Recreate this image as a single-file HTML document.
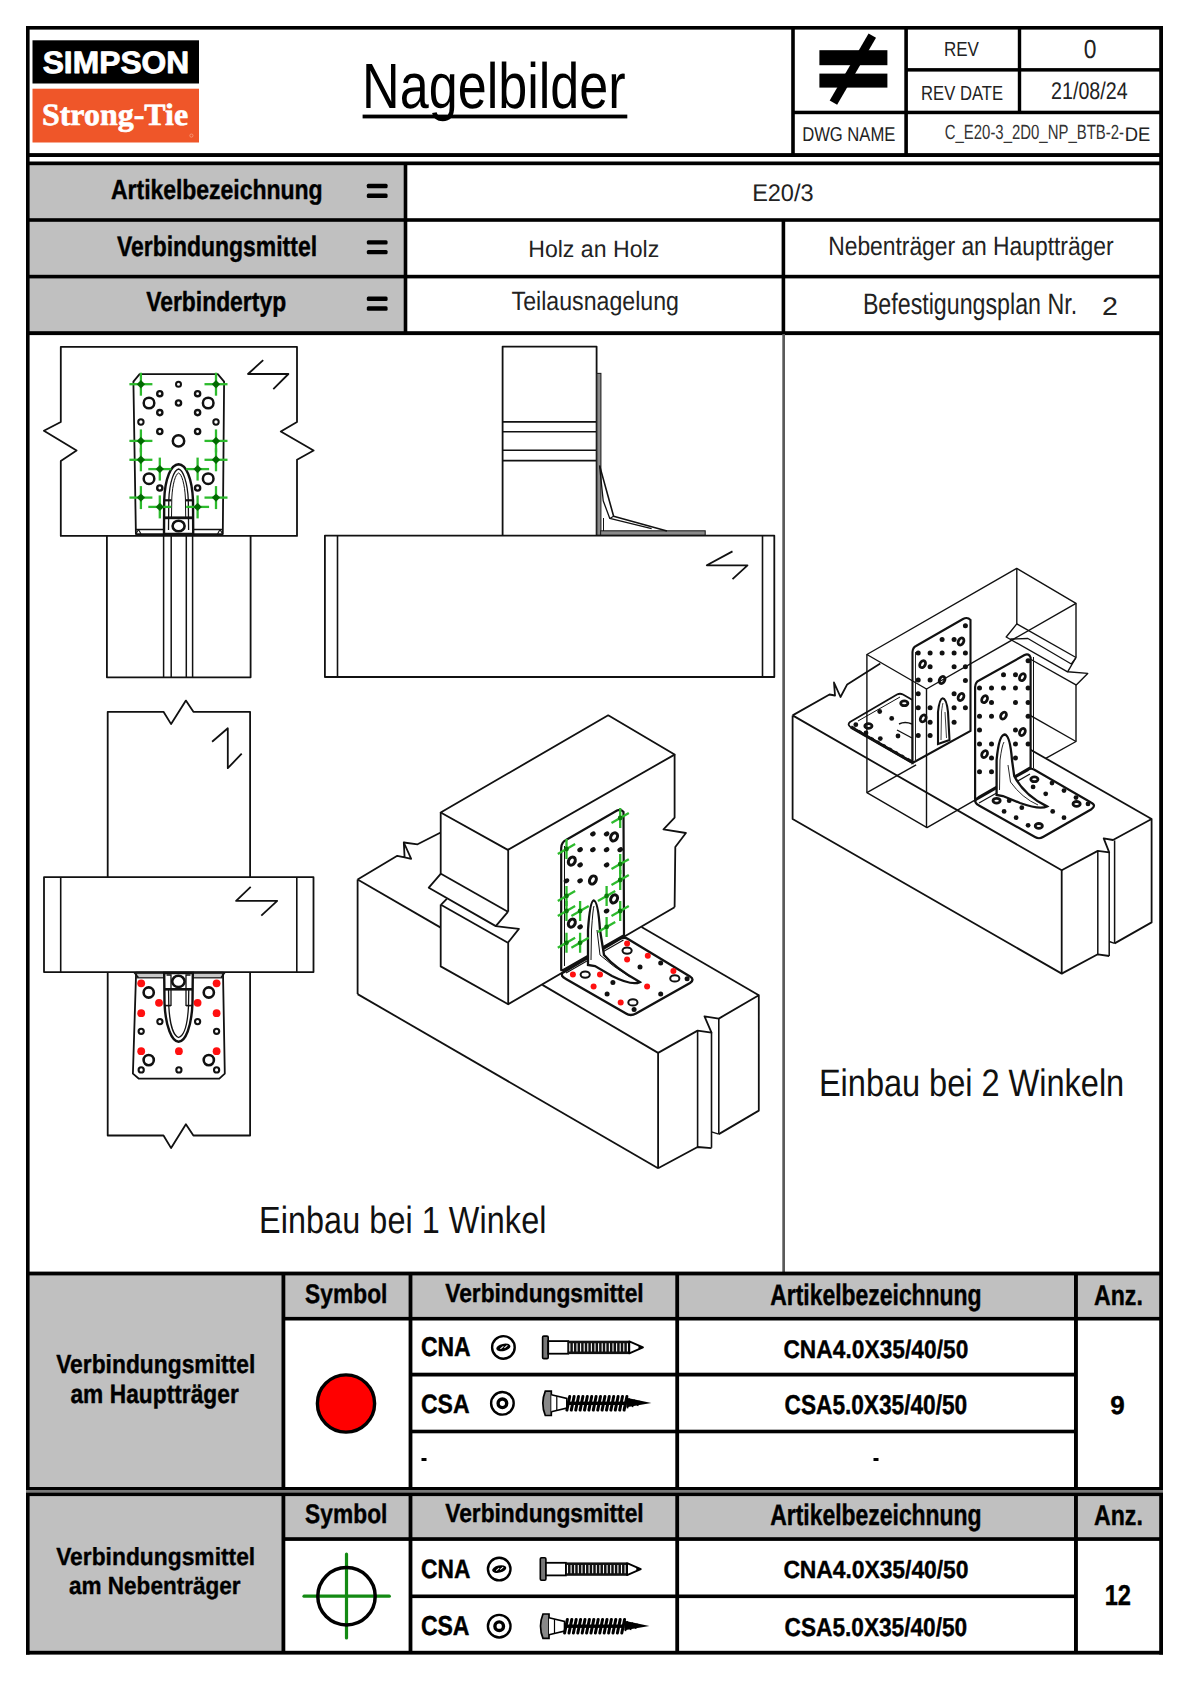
<!DOCTYPE html>
<html><head><meta charset="utf-8"><title>Nagelbilder</title>
<style>
html,body{margin:0;padding:0;background:#fff;}
body{width:1190px;height:1682px;overflow:hidden;font-family:"Liberation Sans",sans-serif;}
svg{display:block;}
</style></head><body>
<svg width="1190" height="1682" viewBox="0 0 1190 1682" text-rendering="geometricPrecision"><rect x="29" y="165" width="375" height="167" fill="#c0c0c0"/><rect x="29" y="1275" width="254" height="212" fill="#c0c0c0"/><rect x="283" y="1275" width="877" height="43" fill="#c0c0c0"/><rect x="29" y="1496" width="254" height="156" fill="#c0c0c0"/><rect x="283" y="1496" width="877" height="43" fill="#c0c0c0"/><rect x="32.5" y="40.3" width="166.5" height="43.2" fill="#000"/><rect x="32.5" y="88.7" width="166.5" height="53.8" fill="#ef5629"/><text transform="translate(42.65 73.40) scale(0.10270 0.10000)" font-size="309.68" font-weight="bold" font-family='"Liberation Sans", sans-serif' fill="#fff" stroke="#fff" stroke-width="8.76" stroke-linejoin="round">SIMPSON</text><text transform="translate(41.92 125.00) scale(0.10279 0.10000)" font-size="310.79" font-weight="bold" font-family='"Liberation Serif", serif' fill="#fff" stroke="#fff" stroke-width="6.81" stroke-linejoin="round">Strong-Tie</text><circle cx="191.4" cy="135.6" r="1.6" fill="none" stroke="#f7a88a" stroke-width="0.7"/><rect x="26.00" y="26.00" width="1137.00" height="3.60" fill="#000"/><rect x="26.00" y="1650.80" width="1137.00" height="3.80" fill="#000"/><rect x="26.00" y="26.00" width="3.60" height="1628.60" fill="#000"/><rect x="1159.20" y="26.00" width="3.80" height="1628.60" fill="#000"/><rect x="791.20" y="26.00" width="3.60" height="131.00" fill="#000"/><rect x="904.30" y="26.00" width="3.60" height="131.00" fill="#000"/><rect x="1017.80" y="26.00" width="3.40" height="88.00" fill="#000"/><rect x="906.00" y="68.10" width="255.00" height="3.50" fill="#000"/><rect x="793.00" y="110.70" width="368.00" height="3.50" fill="#000"/><rect x="26.00" y="153.10" width="1137.00" height="3.90" fill="#000"/><rect x="26.00" y="161.50" width="1137.00" height="3.70" fill="#000"/><rect x="26.00" y="218.20" width="1137.00" height="3.60" fill="#000"/><rect x="26.00" y="274.80" width="1137.00" height="3.60" fill="#000"/><rect x="26.00" y="331.20" width="1137.00" height="3.90" fill="#000"/><rect x="403.70" y="163.00" width="3.60" height="172.00" fill="#000"/><rect x="781.60" y="220.00" width="3.60" height="115.00" fill="#000"/><rect x="782.30" y="334.00" width="2.70" height="939.00" fill="#5a5a5a"/><rect x="26.00" y="1271.60" width="1137.00" height="3.80" fill="#000"/><rect x="281.50" y="1272.00" width="3.80" height="382.00" fill="#000"/><rect x="408.60" y="1272.00" width="3.80" height="382.00" fill="#000"/><rect x="675.30" y="1272.00" width="3.80" height="382.00" fill="#000"/><rect x="1074.00" y="1272.00" width="3.90" height="382.00" fill="#000"/><rect x="283.00" y="1316.90" width="878.00" height="3.60" fill="#000"/><rect x="411.00" y="1372.70" width="665.00" height="3.80" fill="#000"/><rect x="411.00" y="1429.70" width="665.00" height="3.60" fill="#000"/><rect x="26.00" y="1487.00" width="1137.00" height="9.10" fill="#000"/><rect x="26.00" y="1490.00" width="1137.00" height="2.70" fill="#7a7a7a"/><rect x="283.00" y="1537.20" width="878.00" height="3.70" fill="#000"/><rect x="411.00" y="1594.50" width="665.00" height="3.60" fill="#000"/><text transform="translate(362.10 107.60) scale(0.08101 0.10000)" font-size="643.06" font-weight="normal" font-family='"Liberation Sans", sans-serif' fill="#000">Nagelbilder</text><rect x="362.60" y="114.60" width="264.70" height="3.80" fill="#000"/><text transform="translate(943.90 55.60) scale(0.08291 0.10000)" font-size="205.09" font-weight="normal" font-family='"Liberation Sans", sans-serif' fill="#222">REV</text><text transform="translate(921.03 99.70) scale(0.08122 0.10000)" font-size="205.09" font-weight="normal" font-family='"Liberation Sans", sans-serif' fill="#222">REV DATE</text><text transform="translate(802.13 141.00) scale(0.08280 0.10000)" font-size="200.72" font-weight="normal" font-family='"Liberation Sans", sans-serif' fill="#222">DWG NAME</text><text transform="translate(1083.69 57.90) scale(0.08701 0.10000)" font-size="262.37" font-weight="normal" font-family='"Liberation Sans", sans-serif' fill="#222">0</text><text transform="translate(1051.01 99.30) scale(0.08120 0.10000)" font-size="242.76" font-weight="normal" font-family='"Liberation Sans", sans-serif' fill="#222">21/08/24</text><text transform="translate(944.75 139.00) scale(0.07231 0.10000)" font-size="206.45" font-weight="normal" font-family='"Liberation Sans", sans-serif' fill="#333">C_E20-3_2D0_NP_BTB-2-</text><text transform="translate(1124.69 141.00) scale(0.09340 0.10000)" font-size="196.36" font-weight="normal" font-family='"Liberation Sans", sans-serif' fill="#222">DE</text><rect x="819.4" y="50.2" width="68" height="15" fill="#000"/><rect x="819.4" y="73.6" width="68" height="14" fill="#000"/><line x1="872.3" y1="35.6" x2="833.4" y2="102.6" stroke="#000" stroke-width="8.6"/><text transform="translate(111.03 199.20) scale(0.08255 0.10000)" font-size="277.62" font-weight="bold" font-family='"Liberation Sans", sans-serif' fill="#000" stroke="#000" stroke-width="4.24" stroke-linejoin="round">Artikelbezeichnung</text><text transform="translate(116.93 255.50) scale(0.08097 0.10000)" font-size="283.29" font-weight="bold" font-family='"Liberation Sans", sans-serif' fill="#000" stroke="#000" stroke-width="4.32" stroke-linejoin="round">Verbindungsmittel</text><text transform="translate(146.13 311.20) scale(0.08207 0.10000)" font-size="279.04" font-weight="bold" font-family='"Liberation Sans", sans-serif' fill="#000" stroke="#000" stroke-width="4.26" stroke-linejoin="round">Verbindertyp</text><rect x="366.8" y="183.8" width="20.8" height="4.4" rx="1.5" fill="#000"/><rect x="366.8" y="193.5" width="20.8" height="4.4" rx="1.5" fill="#000"/><rect x="366.8" y="240.2" width="20.8" height="4.4" rx="1.5" fill="#000"/><rect x="366.8" y="249.9" width="20.8" height="4.4" rx="1.5" fill="#000"/><rect x="366.8" y="296.6" width="20.8" height="4.4" rx="1.5" fill="#000"/><rect x="366.8" y="306.3" width="20.8" height="4.4" rx="1.5" fill="#000"/><text transform="translate(752.16 201.30) scale(0.09726 0.10000)" font-size="241.38" font-weight="normal" font-family='"Liberation Sans", sans-serif' fill="#222">E20/3</text><text transform="translate(528.19 257.00) scale(0.09772 0.10000)" font-size="236.54" font-weight="normal" font-family='"Liberation Sans", sans-serif' fill="#222">Holz an Holz</text><text transform="translate(511.58 310.20) scale(0.08696 0.10000)" font-size="266.29" font-weight="normal" font-family='"Liberation Sans", sans-serif' fill="#222">Teilausnagelung</text><text transform="translate(828.22 255.00) scale(0.08567 0.10000)" font-size="266.29" font-weight="normal" font-family='"Liberation Sans", sans-serif' fill="#222">Nebenträger an Hauptträger</text><text transform="translate(862.88 313.80) scale(0.07804 0.10000)" font-size="297.45" font-weight="normal" font-family='"Liberation Sans", sans-serif' fill="#222">Befestigungsplan Nr.</text><text transform="translate(1102.07 315.40) scale(0.11196 0.10000)" font-size="255.20" font-weight="normal" font-family='"Liberation Sans", sans-serif' fill="#222">2</text><text transform="translate(259.02 1233.00) scale(0.08535 0.10000)" font-size="381.02" font-weight="normal" font-family='"Liberation Sans", sans-serif' fill="#111">Einbau bei 1 Winkel</text><text transform="translate(818.92 1096.00) scale(0.08465 0.10000)" font-size="383.85" font-weight="normal" font-family='"Liberation Sans", sans-serif' fill="#111">Einbau bei 2 Winkeln</text><text transform="translate(305.12 1302.80) scale(0.08419 0.10000)" font-size="270.54" font-weight="bold" font-family='"Liberation Sans", sans-serif' fill="#000" stroke="#000" stroke-width="4.16" stroke-linejoin="round">Symbol</text><text transform="translate(445.23 1302.00) scale(0.08679 0.10000)" font-size="262.04" font-weight="bold" font-family='"Liberation Sans", sans-serif' fill="#000" stroke="#000" stroke-width="4.03" stroke-linejoin="round">Verbindungsmittel</text><text transform="translate(770.23 1304.90) scale(0.07705 0.10000)" font-size="297.45" font-weight="bold" font-family='"Liberation Sans", sans-serif' fill="#000" stroke="#000" stroke-width="4.54" stroke-linejoin="round">Artikelbezeichnung</text><text transform="translate(1093.92 1305.20) scale(0.08137 0.10000)" font-size="285.09" font-weight="bold" font-family='"Liberation Sans", sans-serif' fill="#000" stroke="#000" stroke-width="4.30" stroke-linejoin="round">Anz.</text><text transform="translate(305.12 1522.80) scale(0.08419 0.10000)" font-size="270.54" font-weight="bold" font-family='"Liberation Sans", sans-serif' fill="#000" stroke="#000" stroke-width="4.16" stroke-linejoin="round">Symbol</text><text transform="translate(445.23 1522.00) scale(0.08679 0.10000)" font-size="262.04" font-weight="bold" font-family='"Liberation Sans", sans-serif' fill="#000" stroke="#000" stroke-width="4.03" stroke-linejoin="round">Verbindungsmittel</text><text transform="translate(770.23 1524.90) scale(0.07705 0.10000)" font-size="297.45" font-weight="bold" font-family='"Liberation Sans", sans-serif' fill="#000" stroke="#000" stroke-width="4.54" stroke-linejoin="round">Artikelbezeichnung</text><text transform="translate(1093.92 1525.20) scale(0.08137 0.10000)" font-size="285.09" font-weight="bold" font-family='"Liberation Sans", sans-serif' fill="#000" stroke="#000" stroke-width="4.30" stroke-linejoin="round">Anz.</text><text transform="translate(56.13 1372.60) scale(0.08710 0.10000)" font-size="262.04" font-weight="bold" font-family='"Liberation Sans", sans-serif' fill="#000" stroke="#000" stroke-width="4.02" stroke-linejoin="round">Verbindungsmittel</text><text transform="translate(70.42 1402.90) scale(0.08528 0.10000)" font-size="267.15" font-weight="bold" font-family='"Liberation Sans", sans-serif' fill="#000" stroke="#000" stroke-width="4.10" stroke-linejoin="round">am Hauptträger</text><text transform="translate(420.88 1356.40) scale(0.08364 0.10000)" font-size="273.84" font-weight="bold" font-family='"Liberation Sans", sans-serif' fill="#000" stroke="#000" stroke-width="4.18" stroke-linejoin="round">CNA</text><text transform="translate(420.88 1412.90) scale(0.08684 0.10000)" font-size="265.23" font-weight="bold" font-family='"Liberation Sans", sans-serif' fill="#000" stroke="#000" stroke-width="4.03" stroke-linejoin="round">CSA</text><text transform="translate(783.39 1358.30) scale(0.08935 0.10000)" font-size="255.17" font-weight="bold" font-family='"Liberation Sans", sans-serif' fill="#000" stroke="#000" stroke-width="3.92" stroke-linejoin="round">CNA4.0X35/40/50</text><text transform="translate(784.59 1414.20) scale(0.08291 0.10000)" font-size="273.10" font-weight="bold" font-family='"Liberation Sans", sans-serif' fill="#000" stroke="#000" stroke-width="4.22" stroke-linejoin="round">CSA5.0X35/40/50</text><text transform="translate(1110.29 1414.20) scale(0.10011 0.10000)" font-size="259.50" font-weight="bold" font-family='"Liberation Sans", sans-serif' fill="#000" stroke="#000" stroke-width="3.50" stroke-linejoin="round">9</text><rect x="421.5" y="1458" width="5" height="3" fill="#000"/><rect x="873.5" y="1458" width="5" height="3" fill="#000"/><circle cx="346" cy="1403.5" r="28.6" fill="#ff0000" stroke="#000" stroke-width="3.4"/><text transform="translate(56.13 1564.70) scale(0.09207 0.10000)" font-size="247.88" font-weight="bold" font-family='"Liberation Sans", sans-serif' fill="#000" stroke="#000" stroke-width="3.80" stroke-linejoin="round">Verbindungsmittel</text><text transform="translate(69.02 1594.30) scale(0.09086 0.10000)" font-size="247.88" font-weight="bold" font-family='"Liberation Sans", sans-serif' fill="#000" stroke="#000" stroke-width="3.85" stroke-linejoin="round">am Nebenträger</text><text transform="translate(420.88 1577.50) scale(0.08636 0.10000)" font-size="265.23" font-weight="bold" font-family='"Liberation Sans", sans-serif' fill="#000" stroke="#000" stroke-width="4.05" stroke-linejoin="round">CNA</text><text transform="translate(420.88 1635.30) scale(0.08367 0.10000)" font-size="275.27" font-weight="bold" font-family='"Liberation Sans", sans-serif' fill="#000" stroke="#000" stroke-width="4.18" stroke-linejoin="round">CSA</text><text transform="translate(783.39 1577.90) scale(0.09133 0.10000)" font-size="249.66" font-weight="bold" font-family='"Liberation Sans", sans-serif' fill="#000" stroke="#000" stroke-width="3.83" stroke-linejoin="round">CNA4.0X35/40/50</text><text transform="translate(784.59 1635.50) scale(0.08686 0.10000)" font-size="260.69" font-weight="bold" font-family='"Liberation Sans", sans-serif' fill="#000" stroke="#000" stroke-width="4.03" stroke-linejoin="round">CSA5.0X35/40/50</text><text transform="translate(1104.72 1605.40) scale(0.08197 0.10000)" font-size="288.17" font-weight="bold" font-family='"Liberation Sans", sans-serif' fill="#000" stroke="#000" stroke-width="4.27" stroke-linejoin="round">12</text><line x1="304" y1="1596.2" x2="389.3" y2="1596.2" stroke="#138a13" stroke-width="3.2" stroke-linecap="round"/><line x1="346.5" y1="1554" x2="346.5" y2="1638" stroke="#138a13" stroke-width="3.2" stroke-linecap="round"/><circle cx="346.5" cy="1596.2" r="28.7" fill="none" stroke="#000" stroke-width="3.5"/><circle cx="503.4" cy="1347.4" r="11.3" fill="none" stroke="#000" stroke-width="2.4"/><ellipse cx="503.4" cy="1347.4" rx="7.2" ry="3.6" transform="rotate(-12 503.4 1347.4)" fill="#000"/><path d="M500.4 1348.9 l3 -2.5 M504.4 1347.9 l3 -2.5" stroke="#fff" stroke-width="1.1"/><rect x="542.6" y="1336.1" width="5.6" height="22.5" rx="1.2" fill="#777" stroke="#000" stroke-width="1.6"/><rect x="548.2" y="1341.1" width="20.0" height="12.6" fill="#fff" stroke="#000" stroke-width="1.8"/><rect x="568.1" y="1340.7" width="61.2" height="13.4" fill="#111"/><line x1="569.8" y1="1343.2" x2="569.8" y2="1351.6" stroke="#fff" stroke-width="1.1"/><line x1="573.4" y1="1343.2" x2="573.4" y2="1351.6" stroke="#fff" stroke-width="1.1"/><line x1="577.0" y1="1343.2" x2="577.0" y2="1351.6" stroke="#fff" stroke-width="1.1"/><line x1="580.6" y1="1343.2" x2="580.6" y2="1351.6" stroke="#fff" stroke-width="1.1"/><line x1="584.2" y1="1343.2" x2="584.2" y2="1351.6" stroke="#fff" stroke-width="1.1"/><line x1="587.8" y1="1343.2" x2="587.8" y2="1351.6" stroke="#fff" stroke-width="1.1"/><line x1="591.4" y1="1343.2" x2="591.4" y2="1351.6" stroke="#fff" stroke-width="1.1"/><line x1="595.0" y1="1343.2" x2="595.0" y2="1351.6" stroke="#fff" stroke-width="1.1"/><line x1="598.6" y1="1343.2" x2="598.6" y2="1351.6" stroke="#fff" stroke-width="1.1"/><line x1="602.2" y1="1343.2" x2="602.2" y2="1351.6" stroke="#fff" stroke-width="1.1"/><line x1="605.8" y1="1343.2" x2="605.8" y2="1351.6" stroke="#fff" stroke-width="1.1"/><line x1="609.4" y1="1343.2" x2="609.4" y2="1351.6" stroke="#fff" stroke-width="1.1"/><line x1="613.0" y1="1343.2" x2="613.0" y2="1351.6" stroke="#fff" stroke-width="1.1"/><line x1="616.6" y1="1343.2" x2="616.6" y2="1351.6" stroke="#fff" stroke-width="1.1"/><line x1="620.2" y1="1343.2" x2="620.2" y2="1351.6" stroke="#fff" stroke-width="1.1"/><line x1="623.8" y1="1343.2" x2="623.8" y2="1351.6" stroke="#fff" stroke-width="1.1"/><line x1="627.4" y1="1343.2" x2="627.4" y2="1351.6" stroke="#fff" stroke-width="1.1"/><path d="M629.3 1341.4 L643.0 1347.4 L629.3 1353.4 Z" fill="#fff" stroke="#000" stroke-width="1.8" stroke-linejoin="round"/><path d="M638.5 1345.2 L643.5 1347.4 L638.5 1349.6 Z" fill="#000"/><circle cx="502.4" cy="1403.3" r="11.3" fill="none" stroke="#000" stroke-width="2.4"/><circle cx="502.4" cy="1403.3" r="4.3" fill="none" stroke="#000" stroke-width="3.4"/><path d="M551.3 1391.1 L551.3 1415.5 L545.3 1415.5 Q540.3 1403.3 545.3 1391.1 Z" fill="#888" stroke="#000" stroke-width="1.7"/><path d="M551.3 1394.8 L566.8 1398.5 L566.8 1408.1 L551.3 1411.8" fill="#fff" stroke="#000" stroke-width="1.6"/><line x1="556.8" y1="1396.3" x2="556.8" y2="1410.3" stroke="#000" stroke-width="1.2"/><rect x="566.8" y="1401.6" width="59.6" height="3.4" fill="#000"/><line x1="566.9" y1="1410.1" x2="569.7" y2="1396.5" stroke="#000" stroke-width="3.0" stroke-linecap="round"/><line x1="571.3" y1="1410.1" x2="574.1" y2="1396.5" stroke="#000" stroke-width="3.0" stroke-linecap="round"/><line x1="575.7" y1="1410.1" x2="578.5" y2="1396.5" stroke="#000" stroke-width="3.0" stroke-linecap="round"/><line x1="580.1" y1="1410.1" x2="582.9" y2="1396.5" stroke="#000" stroke-width="3.0" stroke-linecap="round"/><line x1="584.5" y1="1410.1" x2="587.3" y2="1396.5" stroke="#000" stroke-width="3.0" stroke-linecap="round"/><line x1="588.9" y1="1410.1" x2="591.7" y2="1396.5" stroke="#000" stroke-width="3.0" stroke-linecap="round"/><line x1="593.3" y1="1410.1" x2="596.1" y2="1396.5" stroke="#000" stroke-width="3.0" stroke-linecap="round"/><line x1="597.7" y1="1410.1" x2="600.5" y2="1396.5" stroke="#000" stroke-width="3.0" stroke-linecap="round"/><line x1="602.1" y1="1410.1" x2="604.9" y2="1396.5" stroke="#000" stroke-width="3.0" stroke-linecap="round"/><line x1="606.5" y1="1410.1" x2="609.3" y2="1396.5" stroke="#000" stroke-width="3.0" stroke-linecap="round"/><line x1="610.9" y1="1410.1" x2="613.7" y2="1396.5" stroke="#000" stroke-width="3.0" stroke-linecap="round"/><line x1="615.3" y1="1410.1" x2="618.1" y2="1396.5" stroke="#000" stroke-width="3.0" stroke-linecap="round"/><line x1="619.7" y1="1410.1" x2="622.5" y2="1396.5" stroke="#000" stroke-width="3.0" stroke-linecap="round"/><line x1="624.1" y1="1410.1" x2="626.9" y2="1396.5" stroke="#000" stroke-width="3.0" stroke-linecap="round"/><path d="M626.4 1397.8 L651.4 1403.0 L626.4 1407.3 Z" fill="#000"/><line x1="627.4" y1="1408.3" x2="629.4" y2="1398.3" stroke="#000" stroke-width="1.6"/><line x1="632.4" y1="1407.1" x2="634.4" y2="1399.5" stroke="#000" stroke-width="1.6"/><line x1="637.4" y1="1405.9" x2="639.4" y2="1400.7" stroke="#000" stroke-width="1.6"/><circle cx="499.2" cy="1569.1" r="11.3" fill="none" stroke="#000" stroke-width="2.4"/><ellipse cx="499.2" cy="1569.1" rx="7.2" ry="3.6" transform="rotate(-12 499.2 1569.1)" fill="#000"/><path d="M496.2 1570.6 l3 -2.5 M500.2 1569.6 l3 -2.5" stroke="#fff" stroke-width="1.1"/><rect x="540.3" y="1557.8" width="5.6" height="22.5" rx="1.2" fill="#777" stroke="#000" stroke-width="1.6"/><rect x="545.9" y="1562.8" width="20.0" height="12.6" fill="#fff" stroke="#000" stroke-width="1.8"/><rect x="565.8" y="1562.4" width="61.3" height="13.4" fill="#111"/><line x1="567.5" y1="1564.9" x2="567.5" y2="1573.3" stroke="#fff" stroke-width="1.1"/><line x1="571.1" y1="1564.9" x2="571.1" y2="1573.3" stroke="#fff" stroke-width="1.1"/><line x1="574.7" y1="1564.9" x2="574.7" y2="1573.3" stroke="#fff" stroke-width="1.1"/><line x1="578.3" y1="1564.9" x2="578.3" y2="1573.3" stroke="#fff" stroke-width="1.1"/><line x1="581.9" y1="1564.9" x2="581.9" y2="1573.3" stroke="#fff" stroke-width="1.1"/><line x1="585.5" y1="1564.9" x2="585.5" y2="1573.3" stroke="#fff" stroke-width="1.1"/><line x1="589.1" y1="1564.9" x2="589.1" y2="1573.3" stroke="#fff" stroke-width="1.1"/><line x1="592.7" y1="1564.9" x2="592.7" y2="1573.3" stroke="#fff" stroke-width="1.1"/><line x1="596.3" y1="1564.9" x2="596.3" y2="1573.3" stroke="#fff" stroke-width="1.1"/><line x1="599.9" y1="1564.9" x2="599.9" y2="1573.3" stroke="#fff" stroke-width="1.1"/><line x1="603.5" y1="1564.9" x2="603.5" y2="1573.3" stroke="#fff" stroke-width="1.1"/><line x1="607.1" y1="1564.9" x2="607.1" y2="1573.3" stroke="#fff" stroke-width="1.1"/><line x1="610.7" y1="1564.9" x2="610.7" y2="1573.3" stroke="#fff" stroke-width="1.1"/><line x1="614.3" y1="1564.9" x2="614.3" y2="1573.3" stroke="#fff" stroke-width="1.1"/><line x1="617.9" y1="1564.9" x2="617.9" y2="1573.3" stroke="#fff" stroke-width="1.1"/><line x1="621.5" y1="1564.9" x2="621.5" y2="1573.3" stroke="#fff" stroke-width="1.1"/><line x1="625.1" y1="1564.9" x2="625.1" y2="1573.3" stroke="#fff" stroke-width="1.1"/><path d="M627.1 1563.1 L640.8 1569.1 L627.1 1575.1 Z" fill="#fff" stroke="#000" stroke-width="1.8" stroke-linejoin="round"/><path d="M636.3 1566.9 L641.3 1569.1 L636.3 1571.3 Z" fill="#000"/><circle cx="499.2" cy="1626.2" r="11.3" fill="none" stroke="#000" stroke-width="2.4"/><circle cx="499.2" cy="1626.2" r="4.3" fill="none" stroke="#000" stroke-width="3.4"/><path d="M549.0 1614.0 L549.0 1638.4 L543.0 1638.4 Q538.0 1626.2 543.0 1614.0 Z" fill="#888" stroke="#000" stroke-width="1.7"/><path d="M549.0 1617.7 L564.5 1621.4 L564.5 1631.0 L549.0 1634.7" fill="#fff" stroke="#000" stroke-width="1.6"/><line x1="554.5" y1="1619.2" x2="554.5" y2="1633.2" stroke="#000" stroke-width="1.2"/><rect x="564.5" y="1624.5" width="59.9" height="3.4" fill="#000"/><line x1="564.6" y1="1633.0" x2="567.4" y2="1619.4" stroke="#000" stroke-width="3.0" stroke-linecap="round"/><line x1="569.0" y1="1633.0" x2="571.8" y2="1619.4" stroke="#000" stroke-width="3.0" stroke-linecap="round"/><line x1="573.4" y1="1633.0" x2="576.2" y2="1619.4" stroke="#000" stroke-width="3.0" stroke-linecap="round"/><line x1="577.8" y1="1633.0" x2="580.6" y2="1619.4" stroke="#000" stroke-width="3.0" stroke-linecap="round"/><line x1="582.2" y1="1633.0" x2="585.0" y2="1619.4" stroke="#000" stroke-width="3.0" stroke-linecap="round"/><line x1="586.6" y1="1633.0" x2="589.4" y2="1619.4" stroke="#000" stroke-width="3.0" stroke-linecap="round"/><line x1="591.0" y1="1633.0" x2="593.8" y2="1619.4" stroke="#000" stroke-width="3.0" stroke-linecap="round"/><line x1="595.4" y1="1633.0" x2="598.2" y2="1619.4" stroke="#000" stroke-width="3.0" stroke-linecap="round"/><line x1="599.8" y1="1633.0" x2="602.6" y2="1619.4" stroke="#000" stroke-width="3.0" stroke-linecap="round"/><line x1="604.2" y1="1633.0" x2="607.0" y2="1619.4" stroke="#000" stroke-width="3.0" stroke-linecap="round"/><line x1="608.6" y1="1633.0" x2="611.4" y2="1619.4" stroke="#000" stroke-width="3.0" stroke-linecap="round"/><line x1="613.0" y1="1633.0" x2="615.8" y2="1619.4" stroke="#000" stroke-width="3.0" stroke-linecap="round"/><line x1="617.4" y1="1633.0" x2="620.2" y2="1619.4" stroke="#000" stroke-width="3.0" stroke-linecap="round"/><line x1="621.8" y1="1633.0" x2="624.6" y2="1619.4" stroke="#000" stroke-width="3.0" stroke-linecap="round"/><path d="M624.4 1620.7 L649.4 1625.9 L624.4 1630.2 Z" fill="#000"/><line x1="625.4" y1="1631.2" x2="627.4" y2="1621.2" stroke="#000" stroke-width="1.6"/><line x1="630.4" y1="1630.0" x2="632.4" y2="1622.4" stroke="#000" stroke-width="1.6"/><line x1="635.4" y1="1628.8" x2="637.4" y2="1623.6" stroke="#000" stroke-width="1.6"/><path d="M60.8 346.8 L297.0 346.8 L297.0 422.0 L280.8 431.5 L313.6 450.5 L297.0 459.8 L297.0 535.9 L60.8 535.9 L60.8 461.0 L76.6 450.5 L43.9 430.8 L60.8 422.0 Z" fill="none" stroke="#111" stroke-width="1.80" stroke-linejoin="round"/><path d="M263.2 360.2 L248.0 374.0 L288.4 374.0 L273.3 389.2" fill="none" stroke="#111" stroke-width="1.80" stroke-linejoin="round"/><path d="M106.9 535.9 L106.9 677.3 L250.6 677.3 L250.6 535.9" fill="none" stroke="#111" stroke-width="1.80" stroke-linejoin="round"/><line x1="163.6" y1="535.9" x2="163.6" y2="677.3" stroke="#111" stroke-width="1.50"/><line x1="171.2" y1="535.9" x2="171.2" y2="677.3" stroke="#111" stroke-width="1.50"/><line x1="186.3" y1="535.9" x2="186.3" y2="677.3" stroke="#111" stroke-width="1.50"/><line x1="192.6" y1="535.9" x2="192.6" y2="677.3" stroke="#111" stroke-width="1.50"/><path d="M133.4 381.6 L139.6 374.1 L217.8 374.1 L224.1 381.6 L222.8 534.1 L135.9 534.1 Z" fill="#fff" stroke="#111" stroke-width="1.80" stroke-linejoin="round"/><line x1="135.9" y1="529.5" x2="222.8" y2="529.5" stroke="#111" stroke-width="1.30"/><path d="M135.9 534.1 L138.5 529.5 L141.0 534.1" fill="none" stroke="#111" stroke-width="1.10" stroke-linejoin="round"/><path d="M217.5 534.1 L220.0 529.5 L222.8 534.1" fill="none" stroke="#111" stroke-width="1.10" stroke-linejoin="round"/><path d="M164.0 534 L164.2 500 C165 478 171 464.5 178.6 464.2 C186 464.5 192 478 193.0 500 L193.2 534 Z" fill="#fff" stroke="#111" stroke-width="2.4"/><path d="M168.5 530 L168.8 500 C169.5 482 174 470 178.6 469 C183 470 187.5 482 188.3 500 L188.6 530" fill="none" stroke="#111" stroke-width="1.3"/><path d="M171.5 517 L171.8 498 C172.5 484 175.5 474 178.6 473 M185.7 517 L185.4 498 C184.7 484 181.7 474 178.6 473" fill="none" stroke="#111" stroke-width="1.0"/><line x1="164.5" y1="500.3" x2="171.5" y2="500.3" stroke="#111" stroke-width="2.20"/><line x1="185.7" y1="500.3" x2="192.7" y2="500.3" stroke="#111" stroke-width="2.20"/><line x1="164.5" y1="517.8" x2="192.7" y2="517.8" stroke="#111" stroke-width="2.80"/><ellipse cx="178.6" cy="526.0" rx="6.0" ry="5.3" fill="#fff" stroke="#111" stroke-width="2.6"/><circle cx="159.8" cy="393.7" r="2.6" fill="#fff" stroke="#111" stroke-width="2.4"/><circle cx="197.6" cy="393.7" r="2.6" fill="#fff" stroke="#111" stroke-width="2.4"/><circle cx="178.5" cy="403.0" r="2.6" fill="#fff" stroke="#111" stroke-width="2.4"/><circle cx="159.8" cy="412.6" r="2.6" fill="#fff" stroke="#111" stroke-width="2.4"/><circle cx="197.6" cy="412.6" r="2.6" fill="#fff" stroke="#111" stroke-width="2.4"/><circle cx="159.8" cy="431.5" r="2.6" fill="#fff" stroke="#111" stroke-width="2.4"/><circle cx="197.6" cy="431.5" r="2.6" fill="#fff" stroke="#111" stroke-width="2.4"/><circle cx="159.8" cy="488.0" r="2.6" fill="#fff" stroke="#111" stroke-width="2.4"/><circle cx="197.6" cy="488.0" r="2.6" fill="#fff" stroke="#111" stroke-width="2.4"/><circle cx="178.5" cy="384.2" r="2.5" fill="#fff" stroke="#111" stroke-width="2.0"/><circle cx="149.0" cy="403.0" r="5.3" fill="#fff" stroke="#111" stroke-width="2.5"/><circle cx="208.2" cy="403.0" r="5.3" fill="#fff" stroke="#111" stroke-width="2.5"/><circle cx="149.0" cy="478.7" r="5.3" fill="#fff" stroke="#111" stroke-width="2.5"/><circle cx="208.2" cy="478.7" r="5.3" fill="#fff" stroke="#111" stroke-width="2.5"/><circle cx="178.5" cy="440.9" r="5.7" fill="#fff" stroke="#111" stroke-width="2.5"/><circle cx="140.9" cy="422.0" r="2.7" fill="#fff" stroke="#111" stroke-width="2.0"/><circle cx="216.0" cy="422.0" r="2.7" fill="#fff" stroke="#111" stroke-width="2.0"/><line x1="143.9" y1="384.2" x2="152.4" y2="384.2" stroke="#2dbb2d" stroke-width="2.3"/><line x1="137.9" y1="384.2" x2="129.4" y2="384.2" stroke="#2dbb2d" stroke-width="2.3"/><line x1="140.9" y1="387.2" x2="140.9" y2="395.7" stroke="#2dbb2d" stroke-width="2.3"/><line x1="140.9" y1="381.2" x2="140.9" y2="372.7" stroke="#2dbb2d" stroke-width="2.3"/><path d="M136.7 384.2 L140.9 380.0 L145.1 384.2 L140.9 388.4 Z" fill="#006a00"/><line x1="219.0" y1="384.2" x2="227.5" y2="384.2" stroke="#2dbb2d" stroke-width="2.3"/><line x1="213.0" y1="384.2" x2="204.5" y2="384.2" stroke="#2dbb2d" stroke-width="2.3"/><line x1="216.0" y1="387.2" x2="216.0" y2="395.7" stroke="#2dbb2d" stroke-width="2.3"/><line x1="216.0" y1="381.2" x2="216.0" y2="372.7" stroke="#2dbb2d" stroke-width="2.3"/><path d="M211.8 384.2 L216.0 380.0 L220.2 384.2 L216.0 388.4 Z" fill="#006a00"/><line x1="143.9" y1="440.9" x2="152.4" y2="440.9" stroke="#2dbb2d" stroke-width="2.3"/><line x1="137.9" y1="440.9" x2="129.4" y2="440.9" stroke="#2dbb2d" stroke-width="2.3"/><line x1="140.9" y1="443.9" x2="140.9" y2="452.4" stroke="#2dbb2d" stroke-width="2.3"/><line x1="140.9" y1="437.9" x2="140.9" y2="429.4" stroke="#2dbb2d" stroke-width="2.3"/><path d="M136.7 440.9 L140.9 436.7 L145.1 440.9 L140.9 445.1 Z" fill="#006a00"/><line x1="219.0" y1="440.9" x2="227.5" y2="440.9" stroke="#2dbb2d" stroke-width="2.3"/><line x1="213.0" y1="440.9" x2="204.5" y2="440.9" stroke="#2dbb2d" stroke-width="2.3"/><line x1="216.0" y1="443.9" x2="216.0" y2="452.4" stroke="#2dbb2d" stroke-width="2.3"/><line x1="216.0" y1="437.9" x2="216.0" y2="429.4" stroke="#2dbb2d" stroke-width="2.3"/><path d="M211.8 440.9 L216.0 436.7 L220.2 440.9 L216.0 445.1 Z" fill="#006a00"/><line x1="143.9" y1="459.8" x2="152.4" y2="459.8" stroke="#2dbb2d" stroke-width="2.3"/><line x1="137.9" y1="459.8" x2="129.4" y2="459.8" stroke="#2dbb2d" stroke-width="2.3"/><line x1="140.9" y1="462.8" x2="140.9" y2="471.3" stroke="#2dbb2d" stroke-width="2.3"/><line x1="140.9" y1="456.8" x2="140.9" y2="448.3" stroke="#2dbb2d" stroke-width="2.3"/><path d="M136.7 459.8 L140.9 455.6 L145.1 459.8 L140.9 464.0 Z" fill="#006a00"/><line x1="219.0" y1="459.8" x2="227.5" y2="459.8" stroke="#2dbb2d" stroke-width="2.3"/><line x1="213.0" y1="459.8" x2="204.5" y2="459.8" stroke="#2dbb2d" stroke-width="2.3"/><line x1="216.0" y1="462.8" x2="216.0" y2="471.3" stroke="#2dbb2d" stroke-width="2.3"/><line x1="216.0" y1="456.8" x2="216.0" y2="448.3" stroke="#2dbb2d" stroke-width="2.3"/><path d="M211.8 459.8 L216.0 455.6 L220.2 459.8 L216.0 464.0 Z" fill="#006a00"/><line x1="162.8" y1="469.1" x2="171.3" y2="469.1" stroke="#2dbb2d" stroke-width="2.3"/><line x1="156.8" y1="469.1" x2="148.3" y2="469.1" stroke="#2dbb2d" stroke-width="2.3"/><line x1="159.8" y1="472.1" x2="159.8" y2="480.6" stroke="#2dbb2d" stroke-width="2.3"/><line x1="159.8" y1="466.1" x2="159.8" y2="457.6" stroke="#2dbb2d" stroke-width="2.3"/><path d="M155.6 469.1 L159.8 464.9 L164.0 469.1 L159.8 473.3 Z" fill="#006a00"/><line x1="200.6" y1="469.1" x2="209.1" y2="469.1" stroke="#2dbb2d" stroke-width="2.3"/><line x1="194.6" y1="469.1" x2="186.1" y2="469.1" stroke="#2dbb2d" stroke-width="2.3"/><line x1="197.6" y1="472.1" x2="197.6" y2="480.6" stroke="#2dbb2d" stroke-width="2.3"/><line x1="197.6" y1="466.1" x2="197.6" y2="457.6" stroke="#2dbb2d" stroke-width="2.3"/><path d="M193.4 469.1 L197.6 464.9 L201.8 469.1 L197.6 473.3 Z" fill="#006a00"/><line x1="143.9" y1="497.6" x2="152.4" y2="497.6" stroke="#2dbb2d" stroke-width="2.3"/><line x1="137.9" y1="497.6" x2="129.4" y2="497.6" stroke="#2dbb2d" stroke-width="2.3"/><line x1="140.9" y1="500.6" x2="140.9" y2="509.1" stroke="#2dbb2d" stroke-width="2.3"/><line x1="140.9" y1="494.6" x2="140.9" y2="486.1" stroke="#2dbb2d" stroke-width="2.3"/><path d="M136.7 497.6 L140.9 493.4 L145.1 497.6 L140.9 501.8 Z" fill="#006a00"/><line x1="219.0" y1="497.6" x2="227.5" y2="497.6" stroke="#2dbb2d" stroke-width="2.3"/><line x1="213.0" y1="497.6" x2="204.5" y2="497.6" stroke="#2dbb2d" stroke-width="2.3"/><line x1="216.0" y1="500.6" x2="216.0" y2="509.1" stroke="#2dbb2d" stroke-width="2.3"/><line x1="216.0" y1="494.6" x2="216.0" y2="486.1" stroke="#2dbb2d" stroke-width="2.3"/><path d="M211.8 497.6 L216.0 493.4 L220.2 497.6 L216.0 501.8 Z" fill="#006a00"/><line x1="162.8" y1="506.9" x2="171.3" y2="506.9" stroke="#2dbb2d" stroke-width="2.3"/><line x1="156.8" y1="506.9" x2="148.3" y2="506.9" stroke="#2dbb2d" stroke-width="2.3"/><line x1="159.8" y1="509.9" x2="159.8" y2="518.4" stroke="#2dbb2d" stroke-width="2.3"/><line x1="159.8" y1="503.9" x2="159.8" y2="495.4" stroke="#2dbb2d" stroke-width="2.3"/><path d="M155.6 506.9 L159.8 502.7 L164.0 506.9 L159.8 511.1 Z" fill="#006a00"/><line x1="200.6" y1="506.9" x2="209.1" y2="506.9" stroke="#2dbb2d" stroke-width="2.3"/><line x1="194.6" y1="506.9" x2="186.1" y2="506.9" stroke="#2dbb2d" stroke-width="2.3"/><line x1="197.6" y1="509.9" x2="197.6" y2="518.4" stroke="#2dbb2d" stroke-width="2.3"/><line x1="197.6" y1="503.9" x2="197.6" y2="495.4" stroke="#2dbb2d" stroke-width="2.3"/><path d="M193.4 506.9 L197.6 502.7 L201.8 506.9 L197.6 511.1 Z" fill="#006a00"/><path d="M502.6 535.6 L502.6 346.6 L596.6 346.6 L596.6 535.6" fill="none" stroke="#111" stroke-width="1.80" stroke-linejoin="round"/><line x1="502.6" y1="421.9" x2="596.6" y2="421.9" stroke="#111" stroke-width="1.60"/><line x1="502.6" y1="431.8" x2="596.6" y2="431.8" stroke="#111" stroke-width="1.60"/><line x1="502.6" y1="450.3" x2="596.6" y2="450.3" stroke="#111" stroke-width="1.60"/><line x1="502.6" y1="460.6" x2="596.6" y2="460.6" stroke="#111" stroke-width="1.60"/><rect x="596.9" y="373.4" width="4.0" height="162" fill="#8a8a8a" stroke="#222" stroke-width="1.1"/><rect x="600.6" y="530.8" width="104.6" height="4.6" fill="#8a8a8a" stroke="#222" stroke-width="1.1"/><path d="M599.6 465.6 L613.6 516.2 L667.0 531.0" fill="none" stroke="#111" stroke-width="1.60" stroke-linejoin="round"/><path d="M599.6 465.6 L603.2 500.8 L609.8 518.4 L651.6 528.6" fill="none" stroke="#111" stroke-width="1.30" stroke-linejoin="round"/><path d="M609.8 518.4 L613.6 516.2" fill="none" stroke="#111" stroke-width="1.20" stroke-linejoin="round"/><line x1="603.5" y1="518.0" x2="603.5" y2="531.0" stroke="#111" stroke-width="1.00"/><path d="M324.9 535.6 L774.3 535.6 L774.3 677.0 L324.9 677.0 Z" fill="none" stroke="#111" stroke-width="1.80" stroke-linejoin="round"/><line x1="337.5" y1="535.6" x2="337.5" y2="677.0" stroke="#111" stroke-width="1.60"/><line x1="762.5" y1="535.6" x2="762.5" y2="677.0" stroke="#111" stroke-width="1.60"/><path d="M732.5 551.4 L706.8 565.3 L747.5 565.3 L732.5 579.1" fill="none" stroke="#111" stroke-width="1.80" stroke-linejoin="round"/><path d="M107.7 877.2 L107.7 711.8 L163.5 711.8 L171.1 724.1 L185.9 700.6 L193.4 711.8 L250.1 711.8 L250.1 877.2" fill="none" stroke="#111" stroke-width="1.80" stroke-linejoin="round"/><path d="M107.7 972.1 L107.7 1135.5 L163.5 1135.5 L171.1 1148.1 L185.9 1124.3 L193.4 1135.5 L250.1 1135.5 L250.1 972.1" fill="none" stroke="#111" stroke-width="1.80" stroke-linejoin="round"/><path d="M212.1 741.7 L227.8 728.3 L227.8 768.2 L241.7 753.7" fill="none" stroke="#111" stroke-width="1.80" stroke-linejoin="round"/><path d="M44.0 877.2 L313.5 877.2 L313.5 972.1 L44.0 972.1 Z" fill="#fff" stroke="#111" stroke-width="1.80" stroke-linejoin="round"/><line x1="60.7" y1="877.2" x2="60.7" y2="972.1" stroke="#111" stroke-width="1.60"/><line x1="296.8" y1="877.2" x2="296.8" y2="972.1" stroke="#111" stroke-width="1.60"/><path d="M250.7 886.9 L236.1 900.9 L277.2 900.9 L261.3 915.7" fill="none" stroke="#111" stroke-width="1.80" stroke-linejoin="round"/><path d="M136.1 972.6 L223.0 972.6 L224.8 1073.6 L219.3 1078.7 L138.9 1078.7 L132.9 1073.6 Z" fill="#fff" stroke="#111" stroke-width="1.80" stroke-linejoin="round"/><rect x="136.5" y="973.2" width="86" height="4.6" fill="#c8c8c8" stroke="#222" stroke-width="1.3"/><path d="M134.0 972.6 L138.5 977.5" fill="none" stroke="#111" stroke-width="1.20" stroke-linejoin="round"/><path d="M225.0 972.6 L221.0 977.5" fill="none" stroke="#111" stroke-width="1.20" stroke-linejoin="round"/><path d="M164.2 973 L164.5 1003 C165.5 1027 172 1041.5 178.6 1041.8 C185.5 1041.5 191.5 1027 192.5 1003 L192.8 973 Z" fill="#fff" stroke="#111" stroke-width="2.4"/><path d="M168.5 988 L168.8 1006 C169.8 1026 174 1036 178.6 1037.5 C183.5 1036 187.5 1026 188.5 1006 L188.8 988" fill="none" stroke="#111" stroke-width="1.3"/><path d="M166.5 975 L171 975 L171 1006 M190.5 975 L186 975 L186 1006" fill="none" stroke="#111" stroke-width="1.3"/><line x1="165.0" y1="989.3" x2="192.0" y2="989.3" stroke="#111" stroke-width="2.60"/><ellipse cx="178.4" cy="981.4" rx="6.2" ry="5.6" fill="#fff" stroke="#111" stroke-width="2.6"/><line x1="165.0" y1="1005.6" x2="171.0" y2="1005.6" stroke="#111" stroke-width="1.60"/><line x1="186.0" y1="1005.6" x2="192.0" y2="1005.6" stroke="#111" stroke-width="1.60"/><circle cx="148.7" cy="992.5" r="5.1" fill="#fff" stroke="#111" stroke-width="2.6"/><circle cx="208.8" cy="992.5" r="5.1" fill="#fff" stroke="#111" stroke-width="2.6"/><circle cx="148.7" cy="1060.1" r="5.1" fill="#fff" stroke="#111" stroke-width="2.6"/><circle cx="208.8" cy="1060.1" r="5.1" fill="#fff" stroke="#111" stroke-width="2.6"/><circle cx="159.9" cy="1021.6" r="2.6" fill="#fff" stroke="#111" stroke-width="2.1"/><circle cx="197.6" cy="1021.6" r="2.6" fill="#fff" stroke="#111" stroke-width="2.1"/><circle cx="141.2" cy="1031.3" r="2.6" fill="#fff" stroke="#111" stroke-width="2.1"/><circle cx="216.6" cy="1031.3" r="2.6" fill="#fff" stroke="#111" stroke-width="2.1"/><circle cx="141.2" cy="1069.9" r="2.6" fill="#fff" stroke="#111" stroke-width="2.1"/><circle cx="178.9" cy="1069.9" r="2.6" fill="#fff" stroke="#111" stroke-width="2.1"/><circle cx="216.6" cy="1069.9" r="2.6" fill="#fff" stroke="#111" stroke-width="2.1"/><circle cx="141.2" cy="983.3" r="3.9" fill="#ff1010"/><circle cx="216.6" cy="983.3" r="3.9" fill="#ff1010"/><circle cx="159.0" cy="1002.8" r="3.9" fill="#ff1010"/><circle cx="197.6" cy="1002.8" r="3.9" fill="#ff1010"/><circle cx="141.2" cy="1013.2" r="3.9" fill="#ff1010"/><circle cx="216.6" cy="1013.2" r="3.9" fill="#ff1010"/><circle cx="141.2" cy="1051.2" r="3.9" fill="#ff1010"/><circle cx="178.9" cy="1051.2" r="3.9" fill="#ff1010"/><circle cx="216.6" cy="1051.2" r="3.9" fill="#ff1010"/><path d="M357.6 879.5 L357.6 994.1" fill="none" stroke="#111" stroke-width="1.80" stroke-linejoin="round"/><path d="M357.6 879.5 L397.3 855.8 L404.6 857.4 L403.8 842.5 L411.2 858.8 L404.6 857.4" fill="none" stroke="#111" stroke-width="1.80" stroke-linejoin="round"/><path d="M403.8 842.5 L417.6 844.3 L440.7 832.5" fill="none" stroke="#111" stroke-width="1.80" stroke-linejoin="round"/><path d="M357.6 879.5 L440.7 927.6" fill="none" stroke="#111" stroke-width="1.80" stroke-linejoin="round"/><path d="M542.4 984.9 L658.1 1052.9" fill="none" stroke="#111" stroke-width="1.80" stroke-linejoin="round"/><path d="M357.6 994.1 L658.1 1168.2" fill="none" stroke="#111" stroke-width="1.80" stroke-linejoin="round"/><path d="M658.1 1052.9 L658.1 1168.2" fill="none" stroke="#111" stroke-width="1.80" stroke-linejoin="round"/><path d="M658.1 1052.9 L697.6 1030.6 L711.5 1032.6 L704.5 1016.4 L718.8 1018.6 L758.8 995.3 L758.8 1110.6 L718.8 1134.1" fill="none" stroke="#111" stroke-width="1.80" stroke-linejoin="round"/><path d="M658.1 1168.2 L697.6 1147.0 L711.5 1148.2" fill="none" stroke="#111" stroke-width="1.80" stroke-linejoin="round"/><path d="M711.5 1131.8 L718.8 1134.1" fill="none" stroke="#111" stroke-width="1.40" stroke-linejoin="round"/><line x1="697.6" y1="1030.6" x2="697.6" y2="1147.0" stroke="#111" stroke-width="1.60"/><line x1="711.5" y1="1032.6" x2="711.5" y2="1147.8" stroke="#111" stroke-width="1.60"/><line x1="718.8" y1="1018.8" x2="718.8" y2="1134.1" stroke="#111" stroke-width="1.60"/><path d="M641.5 927.0 L758.8 995.3" fill="none" stroke="#111" stroke-width="1.80" stroke-linejoin="round"/><path d="M440.7 812.5 L608.2 715.3 L674.6 754.6 L507.8 849.9 Z" fill="none" stroke="#111" stroke-width="1.80" stroke-linejoin="round"/><path d="M440.7 812.5 L440.7 874.0" fill="none" stroke="#111" stroke-width="1.80" stroke-linejoin="round"/><path d="M440.7 904.5 L440.7 966.4 L508.2 1004.3 L674.6 907.2" fill="none" stroke="#111" stroke-width="1.80" stroke-linejoin="round"/><path d="M508.2 849.9 L508.2 911.8" fill="none" stroke="#111" stroke-width="1.80" stroke-linejoin="round"/><path d="M508.2 942.4 L508.2 1004.3" fill="none" stroke="#111" stroke-width="1.80" stroke-linejoin="round"/><path d="M440.9 873.7 L507.9 911.8" fill="none" stroke="#111" stroke-width="1.80" stroke-linejoin="round"/><path d="M440.9 873.7 L428.8 887.7 L495.8 926.1 L518.9 928.9 L507.9 942.7" fill="none" stroke="#111" stroke-width="1.80" stroke-linejoin="round"/><path d="M507.9 911.8 L495.8 926.1" fill="none" stroke="#111" stroke-width="1.80" stroke-linejoin="round"/><path d="M440.9 904.8 L446.8 898.8" fill="none" stroke="#111" stroke-width="1.80" stroke-linejoin="round"/><path d="M440.9 904.8 L507.9 942.7" fill="none" stroke="#111" stroke-width="1.80" stroke-linejoin="round"/><path d="M674.6 754.6 L674.6 817.6 L663.5 829.4 L685.9 833.0 L675.3 847.0 L674.6 907.2" fill="none" stroke="#111" stroke-width="1.80" stroke-linejoin="round"/><path d="M562.4 972.9 Q560 976 566 979 L626 1013.5 Q630.6 1016.5 636 1013.5 L690 983 Q695 979.5 690 976.5 L628 939 Q624 936.5 620 939 Z" fill="#fff" stroke="#111" stroke-width="2.4"/><path d="M561.2 970 L561.2 848 Q561.5 842 566 840 L617 810.5 Q621 808.5 623.5 812 L624 935.2 L566 968.5 Q562 971 561.2 970 Z" fill="#fff" stroke="#111" stroke-width="2.2"/><line x1="564.5" y1="846.0" x2="564.5" y2="966.0" stroke="#111" stroke-width="1.00"/><line x1="566.0" y1="973.0" x2="623.5" y2="940.0" stroke="#111" stroke-width="1.20"/><path d="M588 965 L588 930 Q590 901 593.7 900.4 Q598 901 600 930 L604 955 Q615 968 639.8 982.1 Q632 986 612 976 L595 966 Z" fill="#fff" stroke="#111" stroke-width="2.3"/><path d="M591 960 L591.5 930 Q593 908 594 906 M597 930 L600 955 Q612 966 630 977" fill="none" stroke="#111" stroke-width="1.0"/><ellipse cx="592.9" cy="833.9" rx="2.9" ry="2.3" transform="rotate(-30 592.9 833.9)" fill="#111"/><ellipse cx="606.6" cy="833.9" rx="2.9" ry="2.3" transform="rotate(-30 606.6 833.9)" fill="#111"/><ellipse cx="580.1" cy="849.7" rx="2.9" ry="2.3" transform="rotate(-30 580.1 849.7)" fill="#111"/><ellipse cx="592.9" cy="849.7" rx="2.9" ry="2.3" transform="rotate(-30 592.9 849.7)" fill="#111"/><ellipse cx="606.6" cy="849.7" rx="2.9" ry="2.3" transform="rotate(-30 606.6 849.7)" fill="#111"/><ellipse cx="620.2" cy="849.7" rx="2.9" ry="2.3" transform="rotate(-30 620.2 849.7)" fill="#111"/><ellipse cx="580.1" cy="864.9" rx="2.9" ry="2.3" transform="rotate(-30 580.1 864.9)" fill="#111"/><ellipse cx="606.6" cy="864.9" rx="2.9" ry="2.3" transform="rotate(-30 606.6 864.9)" fill="#111"/><ellipse cx="566.5" cy="880.8" rx="2.9" ry="2.3" transform="rotate(-30 566.5 880.8)" fill="#111"/><ellipse cx="580.1" cy="880.8" rx="2.9" ry="2.3" transform="rotate(-30 580.1 880.8)" fill="#111"/><ellipse cx="606.6" cy="911.0" rx="2.9" ry="2.3" transform="rotate(-30 606.6 911.0)" fill="#111"/><ellipse cx="580.1" cy="926.9" rx="2.9" ry="2.3" transform="rotate(-30 580.1 926.9)" fill="#111"/><ellipse cx="614.1" cy="836.9" rx="3.2" ry="4.3" transform="rotate(30 614.1 836.9)" fill="#fff" stroke="#111" stroke-width="3.0"/><ellipse cx="571.8" cy="861.1" rx="3.2" ry="4.3" transform="rotate(30 571.8 861.1)" fill="#fff" stroke="#111" stroke-width="3.0"/><ellipse cx="592.9" cy="880.0" rx="3.2" ry="4.3" transform="rotate(30 592.9 880.0)" fill="#fff" stroke="#111" stroke-width="3.0"/><ellipse cx="614.1" cy="898.9" rx="3.2" ry="4.3" transform="rotate(30 614.1 898.9)" fill="#fff" stroke="#111" stroke-width="3.0"/><ellipse cx="571.8" cy="923.1" rx="3.2" ry="4.3" transform="rotate(30 571.8 923.1)" fill="#fff" stroke="#111" stroke-width="3.0"/><line x1="557.8" y1="854.0" x2="575.2" y2="844.0" stroke="#2dbb2d" stroke-width="2.3" stroke-dasharray="9 2 9"/><line x1="566.5" y1="839.0" x2="566.5" y2="859.0" stroke="#2dbb2d" stroke-width="2.3" stroke-dasharray="9 2 9"/><circle cx="566.5" cy="849.0" r="2.4" fill="#0a7a0a"/><line x1="611.5" y1="823.0" x2="628.9" y2="813.0" stroke="#2dbb2d" stroke-width="2.3" stroke-dasharray="9 2 9"/><line x1="620.2" y1="808.0" x2="620.2" y2="828.0" stroke="#2dbb2d" stroke-width="2.3" stroke-dasharray="9 2 9"/><circle cx="620.2" cy="818.0" r="2.4" fill="#0a7a0a"/><line x1="611.5" y1="869.1" x2="628.9" y2="859.1" stroke="#2dbb2d" stroke-width="2.3" stroke-dasharray="9 2 9"/><line x1="620.2" y1="854.1" x2="620.2" y2="874.1" stroke="#2dbb2d" stroke-width="2.3" stroke-dasharray="9 2 9"/><circle cx="620.2" cy="864.1" r="2.4" fill="#0a7a0a"/><line x1="611.5" y1="885.0" x2="628.9" y2="875.0" stroke="#2dbb2d" stroke-width="2.3" stroke-dasharray="9 2 9"/><line x1="620.2" y1="870.0" x2="620.2" y2="890.0" stroke="#2dbb2d" stroke-width="2.3" stroke-dasharray="9 2 9"/><circle cx="620.2" cy="880.0" r="2.4" fill="#0a7a0a"/><line x1="557.8" y1="900.9" x2="575.2" y2="890.9" stroke="#2dbb2d" stroke-width="2.3" stroke-dasharray="9 2 9"/><line x1="566.5" y1="885.9" x2="566.5" y2="905.9" stroke="#2dbb2d" stroke-width="2.3" stroke-dasharray="9 2 9"/><circle cx="566.5" cy="895.9" r="2.4" fill="#0a7a0a"/><line x1="597.9" y1="900.9" x2="615.3" y2="890.9" stroke="#2dbb2d" stroke-width="2.3" stroke-dasharray="9 2 9"/><line x1="606.6" y1="885.9" x2="606.6" y2="905.9" stroke="#2dbb2d" stroke-width="2.3" stroke-dasharray="9 2 9"/><circle cx="606.6" cy="895.9" r="2.4" fill="#0a7a0a"/><line x1="557.8" y1="916.0" x2="575.2" y2="906.0" stroke="#2dbb2d" stroke-width="2.3" stroke-dasharray="9 2 9"/><line x1="566.5" y1="901.0" x2="566.5" y2="921.0" stroke="#2dbb2d" stroke-width="2.3" stroke-dasharray="9 2 9"/><circle cx="566.5" cy="911.0" r="2.4" fill="#0a7a0a"/><line x1="571.4" y1="916.0" x2="588.8" y2="906.0" stroke="#2dbb2d" stroke-width="2.3" stroke-dasharray="9 2 9"/><line x1="580.1" y1="901.0" x2="580.1" y2="921.0" stroke="#2dbb2d" stroke-width="2.3" stroke-dasharray="9 2 9"/><circle cx="580.1" cy="911.0" r="2.4" fill="#0a7a0a"/><line x1="611.5" y1="916.0" x2="628.9" y2="906.0" stroke="#2dbb2d" stroke-width="2.3" stroke-dasharray="9 2 9"/><line x1="620.2" y1="901.0" x2="620.2" y2="921.0" stroke="#2dbb2d" stroke-width="2.3" stroke-dasharray="9 2 9"/><circle cx="620.2" cy="911.0" r="2.4" fill="#0a7a0a"/><line x1="597.9" y1="931.9" x2="615.3" y2="921.9" stroke="#2dbb2d" stroke-width="2.3" stroke-dasharray="9 2 9"/><line x1="606.6" y1="916.9" x2="606.6" y2="936.9" stroke="#2dbb2d" stroke-width="2.3" stroke-dasharray="9 2 9"/><circle cx="606.6" cy="926.9" r="2.4" fill="#0a7a0a"/><line x1="557.8" y1="947.8" x2="575.2" y2="937.8" stroke="#2dbb2d" stroke-width="2.3" stroke-dasharray="9 2 9"/><line x1="566.5" y1="932.8" x2="566.5" y2="952.8" stroke="#2dbb2d" stroke-width="2.3" stroke-dasharray="9 2 9"/><circle cx="566.5" cy="942.8" r="2.4" fill="#0a7a0a"/><line x1="571.4" y1="947.8" x2="588.8" y2="937.8" stroke="#2dbb2d" stroke-width="2.3" stroke-dasharray="9 2 9"/><line x1="580.1" y1="932.8" x2="580.1" y2="952.8" stroke="#2dbb2d" stroke-width="2.3" stroke-dasharray="9 2 9"/><circle cx="580.1" cy="942.8" r="2.4" fill="#0a7a0a"/><circle cx="640.0" cy="967.1" r="2.5" fill="#111"/><circle cx="660.7" cy="963.1" r="2.5" fill="#111"/><circle cx="612.9" cy="982.4" r="2.5" fill="#111"/><circle cx="607.1" cy="994.1" r="2.5" fill="#111"/><circle cx="660.7" cy="994.1" r="2.5" fill="#111"/><circle cx="687.1" cy="978.8" r="2.5" fill="#111"/><circle cx="634.1" cy="1009.4" r="2.5" fill="#111"/><ellipse cx="627.1" cy="950.6" rx="4.6" ry="3.2" fill="#fff" stroke="#111" stroke-width="2"/><ellipse cx="585.2" cy="974.6" rx="4.6" ry="3.2" fill="#fff" stroke="#111" stroke-width="2"/><ellipse cx="674.8" cy="978.4" rx="4.6" ry="3.2" fill="#fff" stroke="#111" stroke-width="2"/><ellipse cx="632.9" cy="1002.4" rx="4.6" ry="3.2" fill="#fff" stroke="#111" stroke-width="2"/><circle cx="627.1" cy="943.5" r="3.0" fill="#ff1010"/><circle cx="647.8" cy="955.8" r="3.0" fill="#ff1010"/><circle cx="627.1" cy="959.5" r="3.0" fill="#ff1010"/><circle cx="673.4" cy="971.1" r="3.0" fill="#ff1010"/><circle cx="572.9" cy="974.6" r="3.0" fill="#ff1010"/><circle cx="600.0" cy="974.6" r="3.0" fill="#ff1010"/><circle cx="593.6" cy="986.6" r="3.0" fill="#ff1010"/><circle cx="647.1" cy="986.6" r="3.0" fill="#ff1010"/><circle cx="620.7" cy="1002.4" r="3.0" fill="#ff1010"/><path d="M792.6 715.4 L792.6 819.0 L1061.7 973.6 L1061.7 870.3 L792.6 715.4" fill="none" stroke="#111" stroke-width="1.80" stroke-linejoin="round"/><path d="M792.6 715.4 L829.5 694.5 L835.0 695.5 L834.0 682.5 L840.5 697.0 L847.2 684.4 L880.3 663.6" fill="none" stroke="#111" stroke-width="1.80" stroke-linejoin="round"/><path d="M1061.7 870.3 L1097.8 850.9 L1109.2 852.3 L1103.7 838.3 L1113.0 840.0 L1151.6 819.0 L1151.6 922.4 L1114.6 943.4" fill="none" stroke="#111" stroke-width="1.80" stroke-linejoin="round"/><path d="M1061.7 973.6 L1097.8 954.3 L1109.2 956.0" fill="none" stroke="#111" stroke-width="1.80" stroke-linejoin="round"/><path d="M1109.2 941.5 L1114.6 943.4" fill="none" stroke="#111" stroke-width="1.40" stroke-linejoin="round"/><line x1="1097.8" y1="850.9" x2="1097.8" y2="954.3" stroke="#111" stroke-width="1.50"/><line x1="1109.2" y1="852.3" x2="1109.2" y2="956.0" stroke="#111" stroke-width="1.50"/><line x1="1114.6" y1="840.4" x2="1114.6" y2="943.4" stroke="#111" stroke-width="1.50"/><path d="M1151.6 819.0 L1030.6 749.7" fill="none" stroke="#111" stroke-width="1.80" stroke-linejoin="round"/><path d="M850 722 L897 694.5 Q900 693 903 694.5 L912.5 700 L912.5 763 L852 728 Q846.5 725 850 722 Z" fill="#fff" stroke="#111" stroke-width="1.8"/><path d="M851 727 L912 762" stroke="#111" stroke-width="3.2"/><path d="M856 727.5 L908 757.5" stroke="#fff" stroke-width="1.3" stroke-dasharray="4 3"/><path d="M858 721 L900 697" stroke="#111" stroke-width="1.0"/><path d="M899 724 Q905 721 912 724 M897 730 L912 738" fill="none" stroke="#111" stroke-width="1.4"/><circle cx="855.8" cy="724.7" r="2.4" fill="#111"/><circle cx="879.7" cy="711.5" r="2.4" fill="#111"/><circle cx="891.7" cy="718.4" r="2.4" fill="#111"/><circle cx="898.0" cy="736.0" r="2.4" fill="#111"/><circle cx="880.3" cy="738.6" r="2.4" fill="#111"/><circle cx="866.0" cy="733.0" r="2.4" fill="#111"/><ellipse cx="868.4" cy="726.0" rx="3.6" ry="2.4" fill="#fff" stroke="#111" stroke-width="2.8"/><ellipse cx="904.3" cy="703.3" rx="3.6" ry="2.4" fill="#fff" stroke="#111" stroke-width="2.8"/><path d="M912.5 763 L912.5 652 Q912.8 647.5 916 646 L963 619 Q967.5 616.5 970.5 620 L970.5 731 Z" fill="#fff" stroke="#111" stroke-width="2.1"/><line x1="915.5" y1="652.0" x2="915.5" y2="760.0" stroke="#111" stroke-width="0.90"/><path d="M938 744 L938 712 Q939.5 698.5 942.7 698.2 Q946.5 698.5 948 712 L949.5 740 Z" fill="#fff" stroke="#111" stroke-width="2.1"/><path d="M941 740 L941.5 712 Q942.5 704 943 703 M945 712 L946.5 738" fill="none" stroke="#111" stroke-width="0.8"/><circle cx="965.4" cy="625.8" r="2.5" fill="#111"/><circle cx="942.1" cy="639.6" r="2.5" fill="#111"/><circle cx="954.1" cy="639.6" r="2.5" fill="#111"/><circle cx="918.2" cy="652.9" r="2.5" fill="#111"/><circle cx="930.1" cy="652.9" r="2.5" fill="#111"/><circle cx="942.1" cy="652.9" r="2.5" fill="#111"/><circle cx="954.1" cy="652.9" r="2.5" fill="#111"/><circle cx="965.4" cy="652.9" r="2.5" fill="#111"/><circle cx="930.1" cy="666.7" r="2.5" fill="#111"/><circle cx="954.1" cy="666.7" r="2.5" fill="#111"/><circle cx="965.4" cy="666.7" r="2.5" fill="#111"/><circle cx="918.2" cy="680.0" r="2.5" fill="#111"/><circle cx="930.1" cy="680.0" r="2.5" fill="#111"/><circle cx="965.4" cy="680.6" r="2.5" fill="#111"/><circle cx="918.2" cy="693.8" r="2.5" fill="#111"/><circle cx="954.1" cy="693.8" r="2.5" fill="#111"/><circle cx="918.2" cy="707.7" r="2.5" fill="#111"/><circle cx="930.1" cy="707.7" r="2.5" fill="#111"/><circle cx="954.1" cy="707.7" r="2.5" fill="#111"/><circle cx="965.4" cy="707.7" r="2.5" fill="#111"/><circle cx="930.1" cy="722.2" r="2.5" fill="#111"/><circle cx="954.1" cy="722.2" r="2.5" fill="#111"/><circle cx="918.2" cy="735.4" r="2.5" fill="#111"/><circle cx="930.1" cy="735.4" r="2.5" fill="#111"/><ellipse cx="961.0" cy="641.5" rx="2.6" ry="3.7" transform="rotate(30 961.0 641.5)" fill="#fff" stroke="#111" stroke-width="2.8"/><ellipse cx="922.6" cy="664.2" rx="2.6" ry="3.7" transform="rotate(30 922.6 664.2)" fill="#fff" stroke="#111" stroke-width="2.8"/><ellipse cx="942.1" cy="680.0" rx="2.6" ry="3.7" transform="rotate(30 942.1 680.0)" fill="#fff" stroke="#111" stroke-width="2.8"/><ellipse cx="961.0" cy="697.0" rx="2.6" ry="3.7" transform="rotate(30 961.0 697.0)" fill="#fff" stroke="#111" stroke-width="2.8"/><ellipse cx="923.2" cy="718.4" rx="2.6" ry="3.7" transform="rotate(30 923.2 718.4)" fill="#fff" stroke="#111" stroke-width="2.8"/><path d="M866.9 654.5 L1016.7 568.4 L1076.0 603.4 L926.5 689.0 Z" fill="none" stroke="#111" stroke-width="1.40" stroke-linejoin="round"/><path d="M866.9 654.5 L866.9 792.6 L927.0 827.6 L974.9 800.2" fill="none" stroke="#111" stroke-width="1.40" stroke-linejoin="round"/><path d="M926.5 689.0 L926.5 827.6" fill="none" stroke="#111" stroke-width="1.40" stroke-linejoin="round"/><path d="M1016.8 568.4 L1016.8 623.9" fill="none" stroke="#111" stroke-width="1.40" stroke-linejoin="round"/><path d="M1076.0 603.4 L1076.0 657.5 L1067.6 671.8 L1087.7 673.4 L1076.0 685.2 L1076.0 741.5 L1045.7 758.3" fill="none" stroke="#111" stroke-width="1.40" stroke-linejoin="round"/><path d="M1016.8 623.9 L1076.0 657.5" fill="none" stroke="#111" stroke-width="1.40" stroke-linejoin="round"/><path d="M1016.8 623.9 L1006.2 637.0 L1067.6 671.8" fill="none" stroke="#111" stroke-width="1.40" stroke-linejoin="round"/><path d="M1010.4 639.0 L1027.9 638.5 L1071.3 664.0 L1075.8 657.9" fill="none" stroke="#111" stroke-width="1.30" stroke-linejoin="round"/><path d="M1031.0 659.5 L1076.4 685.2" fill="none" stroke="#111" stroke-width="1.40" stroke-linejoin="round"/><path d="M1076.0 741.5 L1030.6 715.6" fill="none" stroke="#111" stroke-width="1.40" stroke-linejoin="round"/><path d="M866.9 792.6 L916.1 764.9" fill="none" stroke="#111" stroke-width="1.40" stroke-linejoin="round"/><path d="M976 799.7 Q974 803 979 805.5 L1035 837 Q1039 839.5 1043 837 L1091 809.5 Q1097 805.5 1091 802.5 L1034 769.5 Q1030.6 767.8 1028 770 Z" fill="#fff" stroke="#111" stroke-width="2.2"/><path d="M975.1 800 L975.1 687 Q975.5 682 979 680.5 L1024.5 655 Q1029 653 1030.6 657.5 L1030.6 767.3 L979 797 Z" fill="#fff" stroke="#111" stroke-width="2.2"/><line x1="1033.5" y1="657.0" x2="1033.5" y2="768.0" stroke="#111" stroke-width="1.00"/><line x1="979.0" y1="803.0" x2="1030.0" y2="774.0" stroke="#111" stroke-width="1.20"/><path d="M996.6 795 L996.6 760 Q999 734.5 1004.7 734.5 Q1010 735 1012 760 L1014.2 776 Q1024 795 1047 806.4 Q1040 810 1020 803 L1003 796 Z" fill="#fff" stroke="#111" stroke-width="2.3"/><path d="M999.5 790 L1000 760 Q1002 745 1004 742 M1008 765 L1010.5 782 Q1022 798 1038 805" fill="none" stroke="#111" stroke-width="0.9"/><circle cx="1028.1" cy="660.8" r="2.5" fill="#111"/><circle cx="1003.5" cy="674.7" r="2.5" fill="#111"/><circle cx="1015.5" cy="674.7" r="2.5" fill="#111"/><circle cx="979.5" cy="687.9" r="2.5" fill="#111"/><circle cx="991.5" cy="687.9" r="2.5" fill="#111"/><circle cx="1003.5" cy="687.9" r="2.5" fill="#111"/><circle cx="1015.5" cy="687.9" r="2.5" fill="#111"/><circle cx="1028.1" cy="687.9" r="2.5" fill="#111"/><circle cx="991.5" cy="702.4" r="2.5" fill="#111"/><circle cx="1015.5" cy="702.4" r="2.5" fill="#111"/><circle cx="1028.1" cy="702.4" r="2.5" fill="#111"/><circle cx="979.5" cy="716.3" r="2.5" fill="#111"/><circle cx="991.5" cy="716.3" r="2.5" fill="#111"/><circle cx="1028.1" cy="716.3" r="2.5" fill="#111"/><circle cx="979.5" cy="730.1" r="2.5" fill="#111"/><circle cx="1015.5" cy="730.1" r="2.5" fill="#111"/><circle cx="979.5" cy="744.0" r="2.5" fill="#111"/><circle cx="991.5" cy="744.0" r="2.5" fill="#111"/><circle cx="1015.5" cy="744.0" r="2.5" fill="#111"/><circle cx="1028.1" cy="744.0" r="2.5" fill="#111"/><circle cx="991.5" cy="757.9" r="2.5" fill="#111"/><circle cx="1015.5" cy="757.9" r="2.5" fill="#111"/><circle cx="979.5" cy="771.7" r="2.5" fill="#111"/><circle cx="991.5" cy="771.7" r="2.5" fill="#111"/><ellipse cx="1022.4" cy="677.2" rx="2.6" ry="3.7" transform="rotate(30 1022.4 677.2)" fill="#fff" stroke="#111" stroke-width="2.8"/><ellipse cx="984.6" cy="699.2" rx="2.6" ry="3.7" transform="rotate(30 984.6 699.2)" fill="#fff" stroke="#111" stroke-width="2.8"/><ellipse cx="1003.5" cy="715.6" rx="2.6" ry="3.7" transform="rotate(30 1003.5 715.6)" fill="#fff" stroke="#111" stroke-width="2.8"/><ellipse cx="1022.4" cy="732.0" rx="2.6" ry="3.7" transform="rotate(30 1022.4 732.0)" fill="#fff" stroke="#111" stroke-width="2.8"/><ellipse cx="984.6" cy="754.1" rx="2.6" ry="3.7" transform="rotate(30 984.6 754.1)" fill="#fff" stroke="#111" stroke-width="2.8"/><circle cx="1052.0" cy="783.1" r="2.4" fill="#111"/><circle cx="1064.0" cy="790.6" r="2.4" fill="#111"/><circle cx="1033.1" cy="786.9" r="2.4" fill="#111"/><circle cx="1045.7" cy="793.8" r="2.4" fill="#111"/><circle cx="1009.2" cy="800.7" r="2.4" fill="#111"/><circle cx="1076.0" cy="797.6" r="2.4" fill="#111"/><circle cx="1088.0" cy="803.9" r="2.4" fill="#111"/><circle cx="1021.8" cy="807.7" r="2.4" fill="#111"/><circle cx="1052.7" cy="811.4" r="2.4" fill="#111"/><circle cx="1004.1" cy="811.4" r="2.4" fill="#111"/><circle cx="1016.1" cy="817.7" r="2.4" fill="#111"/><circle cx="1064.0" cy="817.7" r="2.4" fill="#111"/><circle cx="1028.1" cy="825.3" r="2.4" fill="#111"/><ellipse cx="1034.4" cy="779.3" rx="3.6" ry="2.4" fill="#fff" stroke="#111" stroke-width="2.8"/><ellipse cx="996.6" cy="800.7" rx="3.6" ry="2.4" fill="#fff" stroke="#111" stroke-width="2.8"/><ellipse cx="1076.6" cy="803.9" rx="3.6" ry="2.4" fill="#fff" stroke="#111" stroke-width="2.8"/><ellipse cx="1038.8" cy="825.9" rx="3.6" ry="2.4" fill="#fff" stroke="#111" stroke-width="2.8"/></svg>
</body></html>
